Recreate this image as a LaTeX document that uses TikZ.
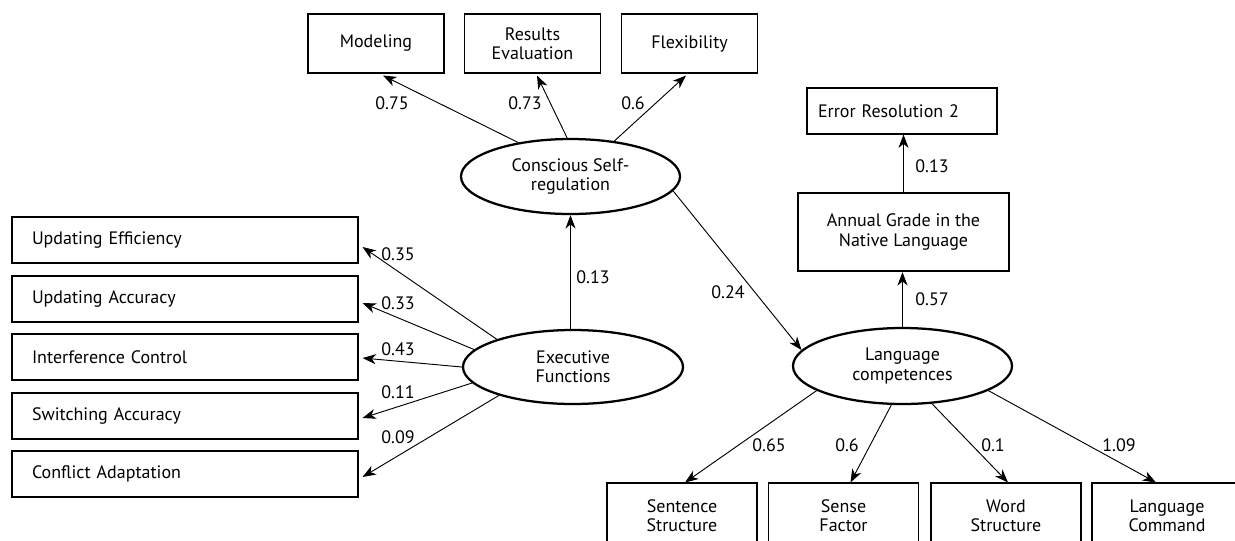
\documentclass[tikz,border=0pt]{standalone}
\usepackage{fontspec}
\setmainfont{PT Sans}
\usetikzlibrary{arrows.meta,shapes.geometric,calc}
\begin{document}
\begin{tikzpicture}[x=0.75pt,y=-0.75pt,
  font=\fontsize{13.5}{14.5}\selectfont,
  every node/.style={text=black},
  box/.style={draw, line width=0.8pt, rectangle, inner sep=0pt, align=center},
  topbox/.style={box, minimum width=102pt, minimum height=44.25pt},
  leftbox/.style={box, text width=229.5pt, inner xsep=15pt, inner ysep=0pt, minimum height=34.5pt, align=left},
  botbox/.style={box, minimum width=112.5pt, minimum height=48.75pt},
  latent/.style={draw, ellipse, line width=1.7pt, inner sep=0pt, align=center},
  arr/.style={-{Stealth[length=10pt,width=7.5pt,inset=3pt]}, line width=0.7pt},
  lbl/.style={inner sep=1pt}
]
\clip (0,0) rectangle (1235,540);
\useasboundingbox (0,0) rectangle (1235,540);

% top indicators
\node[topbox] (mod) at (376,43.5) {Modeling};
\node[topbox] (res) at (532.5,43.5) {Results\\Evaluation};
\node[topbox] (flex) at (689.5,43.5) {Flexibility};

% latent variables
\node[latent, minimum width=164.25pt, minimum height=56.25pt] (csr) at (570.5,176.5) {Conscious Self-\\regulation};
\node[latent, minimum width=165pt, minimum height=55.5pt] (ef) at (573,367) {Executive\\Functions};
\node[latent, minimum width=164.25pt, minimum height=57pt] (lc) at (902.5,366) {Language\\competences};

% right column
\node[box, text width=126pt, inner xsep=8.25pt, minimum height=34.5pt, align=left] (err) at (902,111) {Error Resolution 2};
\node[box, line width=1.7pt, minimum width=158.25pt, minimum height=58.5pt] (ann) at (903.5,232) {Annual Grade in the\\Native Language};

% left indicators
\node[leftbox] (ue) at (185,240) {Updating Efficiency};
\node[leftbox] (ua) at (185,299) {Updating Accuracy};
\node[leftbox] (ic) at (185,357) {Interference Control};
\node[leftbox] (sa) at (185,416) {Switching Accuracy};
\node[leftbox] (ca) at (185,474) {Conflict Adaptation};

% bottom indicators
\node[botbox] (ss) at (682,515.5) {Sentence\\Structure};
\node[botbox] (sf) at (843.5,515.5) {Sense\\Factor};
\node[botbox] (ws) at (1006,515.5) {Word\\Structure};
\node[botbox] (lcm) at (1167,515.5) {Language\\Command};

% connectors: conscious self-regulation
\draw[arr] (csr.147.5) -- ($(mod.south)+(7,2)$);
\draw[arr] (csr.95.3) -- ($(res.south)+(4.5,2)$);
\draw[arr] (csr.39.2) -- ($(flex.south)+(-3.5,2)$);
\draw[arr] (csr.-8.4) -- (lc.171.3);

% executive functions
\draw[arr] (csr.south |- ef.north) -- (csr.south);
\draw[arr] (ef.160.7) -- ($(ue.east)+(4,7)$);
\draw[arr] (ef.170.4) -- ($(ua.east)+(4,4)$);
\draw[arr] (ef.180) -- ($(ic.east)+(4,1)$);
\draw[arr] (ef.189.6) -- ($(sa.east)+(4,2)$);
\draw[arr] (ef.201) -- ($(ca.east)+(4,3)$);

% language competences
\draw[arr] (lc.north) -- (lc.north |- ann.south);
\draw[arr] (ann.north) -- (ann.north |- err.south);
\draw[arr] (lc.196) -- ($(ss.north)+(3,0)$);
\draw[arr] (lc.254.6) -- ($(sf.north)+(7,0)$);
\draw[arr] (lc.308.6) -- ($(ws.north)+(2,0)$);
\draw[arr] (lc.344.5) -- ($(lcm.north)+(-11,0)$);

% coefficient labels
\node[lbl] (l1) at (392,103) {0.75};
\node[lbl] (l2) at (525,103) {0.73};
\node[lbl] (l3) at (633,103) {0.6};
\node[lbl] (l4) at (593,277) {0.13};
\node[lbl] (l5) at (398,254) {0.35};
\node[lbl] (l6) at (398,303) {0.33};
\node[lbl] (l7) at (398,349) {0.43};
\node[lbl] (l8) at (398,392) {0.11};
\node[lbl] (l9) at (398,437) {0.09};
\node[lbl] (l10) at (728,292) {0.24};
\node[lbl] (l11) at (932,166) {0.13};
\node[lbl] (l12) at (932,299) {0.57};
\node[lbl] (l13) at (769,445) {0.65};
\node[lbl] (l14) at (847,445) {0.6};
\node[lbl] (l15) at (993,445) {0.1};
\node[lbl] (l16) at (1119,445) {1.09};
\end{tikzpicture}
\end{document}
